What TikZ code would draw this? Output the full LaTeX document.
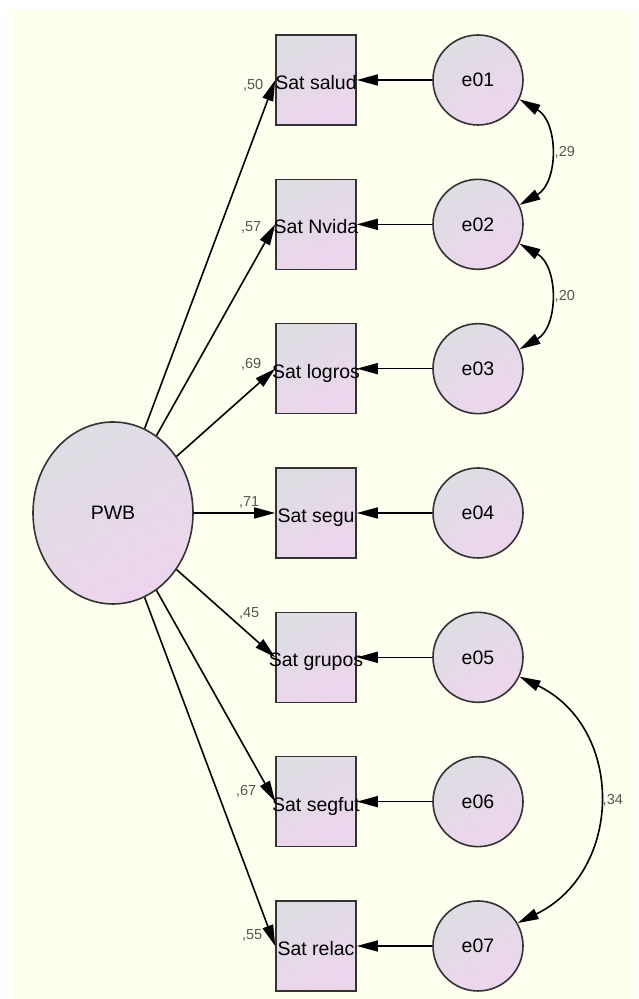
\documentclass[tikz,border=0pt]{standalone}
\usepackage{fontspec}
\setmainfont{Liberation Sans}
\usepackage{tikz}
\usetikzlibrary{arrows.meta, shapes.geometric, positioning}

\definecolor{amosbg}{HTML}{FEFFEE}
\definecolor{fillgray}{HTML}{DDDDE3}
\definecolor{fillpink}{HTML}{EDD5EC}
\definecolor{coefgray}{HTML}{555555}

\tikzset{
	obs/.style={rectangle, draw=black!80, line width=1.6pt, minimum width=80pt, minimum height=90pt, inner ysep=0pt, inner xsep=-15pt,
		top color=fillgray, bottom color=fillpink, shading angle=30,
		font=\fontsize{19.5}{19.5}\selectfont, text height=19pt, text depth=0pt},
	err/.style={circle, draw=black!80, line width=1.6pt, minimum size=90pt, inner sep=0pt,
		top color=fillgray, bottom color=fillpink, shading angle=30, font=\fontsize{19.5}{19.5}\selectfont},
	lat/.style={ellipse, draw=black!80, line width=1.6pt, minimum width=160pt, minimum height=182pt, inner sep=0pt,
		top color=fillgray, bottom color=fillpink, shading angle=30, font=\fontsize{19.5}{19.5}\selectfont},
	coef/.style={font=\fontsize{14.5}{14.5}\selectfont, text=coefgray, inner sep=2pt},
	cov/.style={<->, looseness=1.1}
}

\begin{document}
\begin{tikzpicture}[x=1pt, y=1pt, ->, >={Triangle[length=21pt,width=11pt]}, line width=1.6pt, node distance=144.33pt]
		\useasboundingbox (0,0) rectangle (638,999);
		\fill[white] (0,0) rectangle (638,999);
		\fill[amosbg] (11,0) rectangle (638,989);
		% observed variables
		\node[obs]	(salud)	at (316,919)		{Sat salud};
		\node[obs]	(nvida)	[below of=salud]	{Sat Nvida};
		\node[obs]	(logros)[below of=nvida]	{Sat logros};
		\node[obs]	(segu)	[below of=logros]	{Sat segu};
		\node[obs]	(grupos)[below of=segu]		{Sat grupos};
		\node[obs]	(segfut)[below of=grupos]	{Sat segfut};
		\node[obs]	(relac)	[below of=segfut]	{Sat relac};
		% errors
		\node[err]	(e01)	[node distance=162pt, right of=salud]	{e01};
		\node[err]	(e02)	[node distance=162pt, right of=nvida]	{e02};
		\node[err]	(e03)	[node distance=162pt, right of=logros]	{e03};
		\node[err]	(e04)	[node distance=162pt, right of=segu]	{e04};
		\node[err]	(e05)	[node distance=162pt, right of=grupos]	{e05};
		\node[err]	(e06)	[node distance=162pt, right of=segfut]	{e06};
		\node[err]	(e07)	[node distance=162pt, right of=relac]	{e07};
		% latent
		\node[lat]	(pwb)	[node distance=203pt, left of=segu]	{PWB};
		\path
		(pwb)	edge	node[coef, pos=1, xshift=-22pt, yshift=-5pt]	{,50}	(salud.west)
		(pwb)	edge	node[coef, pos=1, xshift=-24pt, yshift=-3pt]	{,57}	(nvida.west)
		(pwb)	edge	node[coef, pos=1, xshift=-24pt, yshift=4pt]	{,69}	(logros.west)
		(pwb)	edge	node[coef, pos=1, xshift=-26pt, yshift=11pt]	{,71}	(segu.west)
		(pwb)	edge	node[coef, pos=1, xshift=-26pt, yshift=44pt]	{,45}	(grupos.west)
		(pwb)	edge	node[coef, pos=1, xshift=-29pt, yshift=10pt]	{,67}	(segfut.west)
		(pwb)	edge	node[coef, pos=1, xshift=-23pt, yshift=11pt]	{,55}	(relac.west);
		\path
		(e01)	edge	(salud)
		(e02)	edge	(nvida)
		(e03)	edge	(logros)
		(e04)	edge	(segu)
		(e05)	edge	(grupos)
		(e06)	edge	(segfut)
		(e07)	edge	(relac);
		\path
		(e01.-25)	edge[cov, out=-30, in=30]	node[coef, right=3pt]	{,29}	(e02.25)
		(e02.-25)	edge[cov, out=-30, in=30]	node[coef, right=3pt]	{,20}	(e03.25)
		(e05.-25)	edge[cov, out=-26, in=26, looseness=1.22]	node[coef, right=2pt]	{,34}	(e07.30);
\end{tikzpicture}
\end{document}
